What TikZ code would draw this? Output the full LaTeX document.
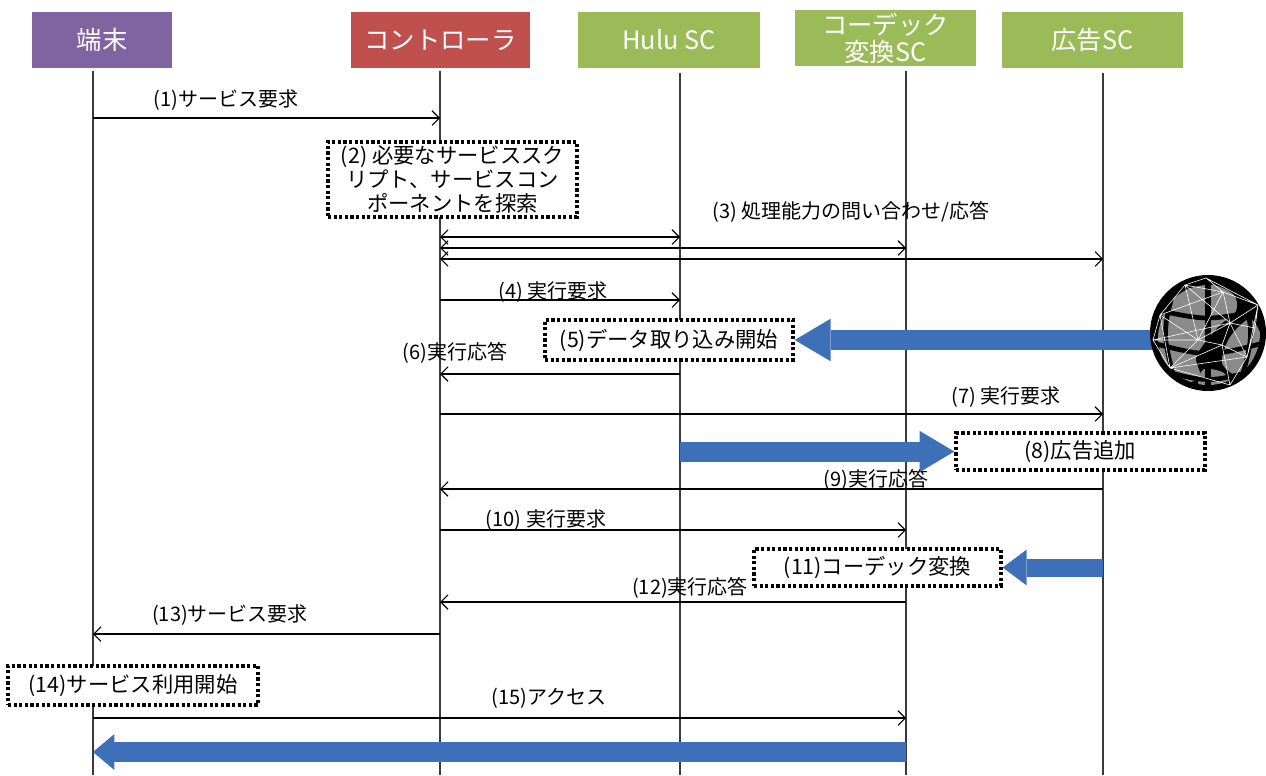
\documentclass[tikz,border=0pt]{standalone}
\usepackage{fontspec}
\setmainfont{Noto Sans CJK JP}
\usetikzlibrary{arrows.meta,calc}

\definecolor{hdpurple}{HTML}{8064A2}
\definecolor{hdred}{HTML}{C0504D}
\definecolor{hdgreen}{HTML}{9BBB59}
\definecolor{flowblue}{HTML}{3D70B8}
\definecolor{lifegray}{HTML}{3A3A3A}
\definecolor{landgray}{HTML}{8A8A8A}

\tikzset{
  header/.style={fill=#1, text=white, inner sep=0pt, minimum height=42pt,
    font=\fontsize{19pt}{21pt}\selectfont, align=center},
  lifeline/.style={draw=lifegray, line width=0.9pt},
  msg/.style={draw=black, line width=0.9pt, -{Straight Barb[length=5.5pt,width=11pt,line width=0.8pt]}},
  dmsg/.style={draw=black, line width=0.9pt,
    {Straight Barb[length=5.5pt,width=11pt,line width=0.8pt]}-{Straight Barb[length=5.5pt,width=11pt,line width=0.8pt]}},
  lbl/.style={font=\fontsize{15pt}{17pt}\selectfont, inner sep=0pt},
  note/.style={draw=black, fill=white, line width=2.6pt, dash pattern=on 2.4pt off 1.8pt,
    inner sep=0pt, font=\fontsize{16pt}{18pt}\selectfont, align=center},
  flow/.style={draw=flowblue, line width=15pt},
  net/.style={draw=white, line width=0.45pt},
}

\begin{document}
\begin{tikzpicture}[x=0.75pt,y=-0.75pt]
  \useasboundingbox (0,0) rectangle (1266,775);

  % participants
  \node[header=hdpurple, minimum width=105pt]    (h1) at (102,40)   {端末};
  \node[header=hdred,    minimum width=134.25pt] (h2) at (440.5,40) {コントローラ};
  \node[header=hdgreen,  minimum width=136.5pt]  (h3) at (669,40)   {Hulu SC};
  \node[header=hdgreen,  minimum width=135.75pt, font=\fontsize{19pt}{20pt}\selectfont] (h4) at (885.5,38) {コーデック\\変換SC};
  \node[header=hdgreen,  minimum width=135.75pt] (h5) at (1092.5,40) {広告SC};

  % lifelines
  \coordinate (L1) at (93,71);   \coordinate (E1) at (93,775);
  \coordinate (L2) at (440,71);  \coordinate (E2) at (440,775);
  \coordinate (L3) at (680,73);  \coordinate (E3) at (680,775);
  \coordinate (L4) at (906,71);  \coordinate (E4) at (906,775);
  \coordinate (L5) at (1103,73); \coordinate (E5) at (1103,775);
  \foreach \i in {1,...,5} { \draw[lifeline] (L\i) -- (E\i); }

  % message rows
  \coordinate (m1) at (0,118);
  \coordinate (m3a) at (0,237);
  \coordinate (m3b) at (0,248);
  \coordinate (m3c) at (0,259);
  \coordinate (m4) at (0,300);
  \coordinate (m6) at (0,374);
  \coordinate (m7) at (0,414);
  \coordinate (m9) at (0,489);
  \coordinate (m10) at (0,530);
  \coordinate (m12) at (0,602);
  \coordinate (m13) at (0,634);
  \coordinate (m15) at (0,718);
  \coordinate (m16) at (0,752);

  % messages
  \draw[msg]  (L1 |- m1)  -- (L2 |- m1);
  \draw[dmsg] (L2 |- m3a) -- (L3 |- m3a);
  \draw[dmsg] (L2 |- m3b) -- (L4 |- m3b);
  \draw[dmsg] (L2 |- m3c) -- (L5 |- m3c);
  \draw[msg]  (L2 |- m4)  -- (L3 |- m4);
  \draw[msg]  (L3 |- m6)  -- (L2 |- m6);
  \draw[msg]  (L2 |- m7)  -- (L5 |- m7);
  \draw[msg]  (L5 |- m9)  -- (L2 |- m9);
  \draw[msg]  (L2 |- m10) -- (L4 |- m10);
  \draw[msg]  (L4 |- m12) -- (L2 |- m12);
  \draw[msg]  (L2 |- m13) -- (L1 |- m13);
  \draw[msg]  (L1 |- m15) -- (L4 |- m15);

  % message labels
  \node[lbl] (t1)  at (226,100) {(1)サービス要求};
  \node[lbl] (t3)  at (851,212) {(3) 処理能力の問い合わせ/応答};
  \node[lbl] (t4)  at (553,292) {(4) 実行要求};
  \node[lbl] (t6)  at (455,353) {(6)実行応答};
  \node[lbl] (t7)  at (1006,397) {(7) 実行要求};
  \node[lbl] (t9)  at (876,480) {(9)実行応答};
  \node[lbl] (t10) at (546,520) {(10) 実行要求};
  \node[lbl] (t12) at (690,588) {(12)実行応答};
  \node[lbl] (t13) at (230,615) {(13)サービス要求};
  \node[lbl] (t15) at (549,698) {(15)アクセス};

  % processing notes
  \node[note, minimum width=186.75pt, minimum height=56.25pt] (b2) at (452.5,179.5)
    {(2) 必要なサービススク\\リプト、サービスコン\\ポーネントを探索};
  \node[note, minimum width=186pt, minimum height=30pt] (b5) at (669,340) {(5)データ取り込み開始};
  \node[note, minimum width=186.75pt, minimum height=27.75pt] (b8) at (1080.5,451.5) {(8)広告追加};
  \node[note, minimum width=185.25pt, minimum height=27.75pt] (b11) at (877.5,567.5) {(11)コーデック変換};
  \node[note, minimum width=187.5pt, minimum height=29.25pt] (b14) at (133,685.5) {(14)サービス利用開始};

  % data flows
  \coordinate (g5) at (1190,340);
  \draw[flow, -{Triangle[length=27pt,width=32pt,line width=0pt]}] (g5) -- (b5.east);
  \draw[flow, -{Triangle[length=26pt,width=31pt,line width=0pt]}] (L3 |- b8) -- (b8.west);
  \draw[flow, line width=13.5pt, -{Triangle[length=18pt,width=27pt,line width=0pt]}] (L5 |- b11) -- (b11.east);
  \draw[flow, -{Triangle[length=16pt,width=27pt,line width=0pt]}] (L4 |- m16) -- (L1 |- m16);

  % content source globe
  \begin{scope}[shift={(1208,333)}]
    \fill[black] (0,0) circle[radius=58];
    \begin{scope}
      \clip (0,0) circle[radius=52];
      \fill[landgray] plot[smooth cycle] coordinates
        {(-40,-28) (-20,-44) (5,-48) (26,-38) (28,-22) (12,-8) (-2,8) (-12,25) (-8,44) (-28,50) (-44,30) (-50,2)};
      \fill[landgray] plot[smooth cycle] coordinates
        {(22,4) (42,-14) (54,6) (50,32) (32,44) (14,30)};
      \fill[landgray] plot[smooth cycle] coordinates
        {(-4,36) (16,40) (22,54) (2,58) (-10,50)};
      \draw[black, line width=5pt] (0,-60) -- (0,60);
      \draw[black, line width=3.5pt] (-32,-52) .. controls (-46,0) .. (-32,52);
      \draw[black, line width=3.5pt] (32,-52) .. controls (46,0) .. (32,52);
      \draw[black, line width=3.5pt] (-56,-24) .. controls (0,-12) .. (56,-24);
      \draw[black, line width=3.5pt] (-56,10) .. controls (0,24) .. (56,10);
      \draw[black, line width=3.5pt] (-52,36) .. controls (0,50) .. (52,36);
    \end{scope}
    \coordinate (pa) at (-23,-48);
    \coordinate (pb) at (15,-41);
    \coordinate (pc) at (50,-28);
    \coordinate (pd) at (22,-10);
    \coordinate (pe) at (-10,7);
    \coordinate (pf) at (-48,-18);
    \coordinate (pg) at (-38,35);
    \coordinate (ph) at (14,12);
    \coordinate (pi) at (39,24);
    \coordinate (pj) at (22,52);
    \coordinate (pk) at (-55,7);
    \coordinate (pl) at (-2,-55);
    \coordinate (pm) at (47,-5);
    \draw[net] (pa)--(pb) (pa)--(pd) (pa)--(pe) (pa)--(pf) (pb)--(pc) (pb)--(pd) (pb)--(pe)
      (pc)--(pd) (pc)--(pm) (pd)--(pe) (pd)--(ph) (pd)--(pi) (pe)--(pf) (pe)--(pg) (pe)--(ph)
      (pe)--(pk) (pf)--(pk) (pg)--(pk) (pg)--(ph) (pg)--(pj) (ph)--(pi) (ph)--(pj) (pi)--(pj)
      (pi)--(pm) (pm)--(pd) (pa)--(pl) (pl)--(pb) (pf)--(pb) (pk)--(pd) (pg)--(pi) (pc)--(pi)
      (pl)--(pc) (pf)--(pg);
  \end{scope}
\end{tikzpicture}
\end{document}
